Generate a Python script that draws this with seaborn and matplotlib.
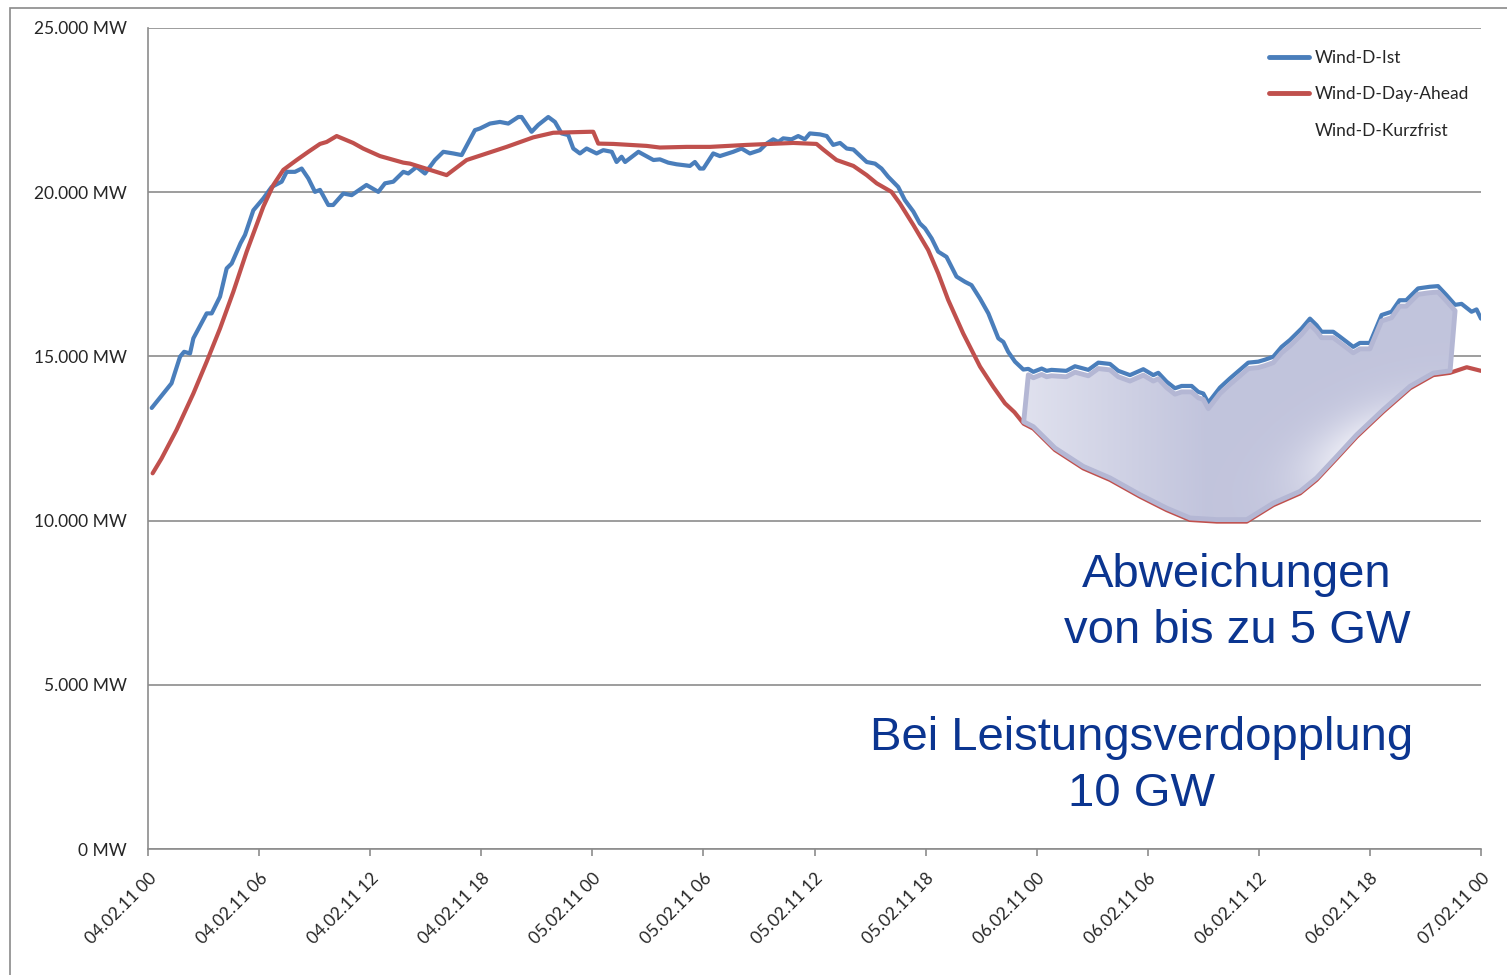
import numpy as np
import pandas as pd
import matplotlib.pyplot as plt
import seaborn as sns
from matplotlib.patches import Polygon, Rectangle
from matplotlib.lines import Line2D

# Stunden ab 04.02.11 00:00 und Einspeisung in MW
ist_h = [0.2, 1.27, 1.73, 1.95, 2.27, 2.45, 3.17, 3.44, 3.89, 4.25, 4.52, 5.0, 5.24, 5.69, 6.23,
         6.68, 7.22, 7.49, 7.94, 8.3, 8.66, 9.02, 9.29, 9.74, 10.0, 10.55, 11.0, 11.8, 12.44,
         12.8, 13.25, 13.79, 14.06, 14.51, 14.96, 15.5, 15.95, 16.49, 16.94, 17.66, 17.93,
         18.47, 19.01, 19.46, 20.0, 20.18, 20.72, 21.08, 21.62, 21.98, 22.34, 22.7, 22.97,
         23.33, 23.69, 24.23, 24.59, 25.05, 25.31, 25.58, 25.77, 26.49, 27.3, 27.65, 28.1,
         28.55, 29.27, 29.54, 29.81, 30.0, 30.53, 30.89, 31.61, 32.06, 32.51, 33.05, 33.41,
         33.77, 34.04, 34.31, 34.76, 35.12, 35.48, 35.75, 36.3, 36.66, 37.01, 37.38, 37.74,
         38.1, 38.82, 39.27, 39.62, 39.98, 40.52, 40.88, 41.34, 41.69, 41.97, 42.33, 42.68,
         43.13, 43.67, 44.13, 44.48, 44.94, 45.39, 45.93, 46.2, 46.46, 46.83, 47.28, 47.55,
         47.82, 48.27, 48.54, 48.8, 49.6, 50.07, 50.79, 51.33, 51.96, 52.41, 53.04, 53.76,
         54.3, 54.57, 55.02, 55.47, 55.83, 56.37, 56.73, 57.0, 57.27, 57.9, 58.44, 58.98,
         59.43, 59.97, 60.33, 60.78, 61.23, 61.68, 62.31, 62.76, 63.12, 63.39, 64.02, 64.38,
         65.1, 65.46, 66.0, 66.63, 67.17, 67.6, 67.96, 68.6, 69.23, 69.68, 70.13, 70.6,
         70.95, 71.49, 71.76, 72.0]
ist_mw = [13430, 14180, 14990, 15140, 15090, 15550, 16310, 16310, 16820, 17680, 17830, 18450,
          18700, 19450, 19810, 20160, 20320, 20620, 20620, 20720, 20420, 20010, 20070, 19610,
          19610, 19960, 19910, 20220, 20010, 20270, 20320, 20620, 20570, 20770, 20570, 20980,
          21230, 21180, 21130, 21890, 21940, 22090, 22140, 22090, 22290, 22290, 21840, 22050,
          22290, 22140, 21790, 21740, 21330, 21180, 21330, 21180, 21280, 21230, 20920, 21080,
          20920, 21230, 20980, 21000, 20900, 20850, 20800, 20920, 20720, 20720, 21180, 21100,
          21230, 21330, 21180, 21280, 21480, 21610, 21530, 21640, 21610, 21710, 21610, 21790,
          21760, 21710, 21440, 21500, 21330, 21300, 20920, 20870, 20720, 20470, 20160, 19760,
          19410, 19050, 18900, 18590, 18190, 18030, 17430, 17270, 17170, 16760, 16310, 15550,
          15440, 15140, 14840, 14600, 14620, 14530, 14630, 14560, 14590, 14560, 14700, 14590,
          14810, 14770, 14560, 14430, 14610, 14430, 14500, 14230, 14030, 14100, 14100, 13920,
          13870, 13590, 14050, 14330, 14590, 14810, 14840, 14900, 14990, 15290, 15500, 15850,
          16150, 15950, 15750, 15750, 15600, 15290, 15410, 15410, 16260, 16360, 16710, 16710,
          17070, 17120, 17140, 16870, 16570, 16600, 16360, 16430, 16150]

da_h = [0.25, 0.73, 1.54, 2.45, 3.17, 3.89, 4.61, 5.33, 6.23, 6.77, 7.31, 8.03, 8.66, 9.29,
        9.65, 10.19, 11.08, 11.62, 12.53, 13.79, 14.15, 15.23, 16.13, 17.21, 19.37, 20.81,
        21.89, 23.87, 24.05, 24.32, 25.13, 26.93, 27.65, 29.09, 30.36, 32.33, 34.85, 36.11,
        36.47, 37.19, 38.1, 38.82, 39.36, 40.16, 40.61, 41.34, 42.14, 42.68, 43.22, 44.03,
        44.94, 45.66, 46.29, 46.8, 47.3, 47.82, 48.99, 50.52, 51.96, 53.58, 55.02, 56.28,
        57.73, 59.35, 60.78, 62.23, 63.12, 64.2, 65.28, 66.71, 68.17, 69.42, 70.33, 71.23, 72.0]
da_mw = [11440, 11890, 12760, 13870, 14840, 15850, 16970, 18190, 19560, 20220, 20680, 20980,
         21230, 21470, 21530, 21710, 21500, 21330, 21100, 20900, 20870, 20680, 20520, 20980,
         21380, 21670, 21810, 21840, 21840, 21480, 21470, 21410, 21360, 21380, 21380, 21440,
         21500, 21470, 21300, 20980, 20800, 20520, 20270, 20010, 19660, 19000, 18240, 17530,
         16720, 15700, 14690, 14070, 13570, 13300, 12950, 12800, 12150, 11590, 11240, 10730,
         10320, 10020, 9970, 9970, 10470, 10830, 11240, 11890, 12550, 13310, 14030, 14430,
         14500, 14670, 14560]

x_ticks = list(range(0, 73, 6))
x_labels = ["04.02.11 00", "04.02.11 06", "04.02.11 12", "04.02.11 18",
            "05.02.11 00", "05.02.11 06", "05.02.11 12", "05.02.11 18",
            "06.02.11 00", "06.02.11 06", "06.02.11 12", "06.02.11 18", "07.02.11 00"]
y_ticks = [0, 5000, 10000, 15000, 20000, 25000]
y_labels = ["0 MW", "5.000 MW", "10.000 MW", "15.000 MW", "20.000 MW", "25.000 MW"]

# Bereich der markierten Abweichung
band_start, band_end = 47.3, 70.6

ist = pd.DataFrame({"h": ist_h, "mw": ist_mw})
da = pd.DataFrame({"h": da_h, "mw": da_mw})

sns.set_style("white")
plt.rcParams["font.family"] = ["Lato", "DejaVu Sans"]

W, H = 1507, 975
fig = plt.figure(figsize=(W / 100, H / 100), dpi=100)
ax = fig.add_axes([148 / W, (H - 849) / H, (1481 - 148) / W, (849 - 28) / H])

# Rahmen um das Diagramm (nur links und oben sichtbar)
fig.patches.append(Rectangle((10 / W, -0.2), 1.2, 0.2 + (H - 8) / H,
                             transform=fig.transFigure, fill=False,
                             edgecolor="#8a8a8a", linewidth=1.2))

blue = "#4a7ebb"
red = "#c0504d"
sns.lineplot(data=ist, x="h", y="mw", ax=ax, color=blue, linewidth=3, zorder=3,
             sort=False, estimator=None)
sns.lineplot(data=da, x="h", y="mw", ax=ax, color=red, linewidth=3, zorder=3,
             sort=False, estimator=None)

# Abweichungsfläche zwischen Ist und Day-Ahead
top = ist[(ist.h >= band_start) & (ist.h <= band_end)]
bot = da[(da.h >= band_start) & (da.h <= band_end)].iloc[::-1]
verts = np.vstack([np.column_stack([top.h, top.mw - 180]),
                   np.column_stack([bot.h, bot.mw + 60])])
poly = Polygon(verts, closed=True, facecolor="none", edgecolor="#b4b7d4",
               linewidth=3.5, zorder=5, joinstyle="round")
ax.add_patch(poly)

x0, x1 = verts[:, 0].min(), verts[:, 0].max()
y0, y1 = verts[:, 1].min(), verts[:, 1].max()
u, v = np.meshgrid(np.linspace(0, 1, 300), np.linspace(0, 1, 200))
light = np.clip(0.55 * (0.42 - u) / 0.42, 0, None)
# heller Streifen entlang der rechten unteren Kante
p0, p1 = np.array([0.6, 0.02]), np.array([0.98, 0.62])
d = p1 - p0
L = np.hypot(*d)
t = ((u - p0[0]) * d[0] + (v - p0[1]) * d[1]) / L ** 2
perp = ((u - p0[0]) * d[1] - (v - p0[1]) * d[0]) / L
light += 0.95 * np.exp(-(perp - 0.03) ** 2 / 0.016) * np.exp(-(t - 0.5) ** 2 / 0.1)
light = np.clip(light, 0, 1)
dark = np.array([0.76, 0.77, 0.865])
white = np.array([0.975, 0.975, 0.99])
img = dark[None, None, :] * (1 - light[..., None]) + white[None, None, :] * light[..., None]
im = ax.imshow(img, extent=[x0, x1, y0, y1], origin="lower", aspect="auto", zorder=4,
               interpolation="bilinear")
im.set_clip_path(Polygon(verts, closed=True, transform=ax.transData))

ax.set_xlim(0, 72)
ax.set_ylim(0, 25000)
ax.set_xticks(x_ticks)
ax.set_xticklabels(x_labels, rotation=45, ha="right", rotation_mode="anchor", fontsize=12.5)
ax.set_yticks(y_ticks)
ax.set_yticklabels(y_labels, fontsize=12.5)
ax.set_xlabel("")
ax.set_ylabel("")
ax.grid(axis="y", color="#8c8c8c", linewidth=1.2)
ax.grid(axis="x", visible=False)
for s in ["top", "right"]:
    ax.spines[s].set_visible(False)
for s in ["left", "bottom"]:
    ax.spines[s].set_color("#8c8c8c")
    ax.spines[s].set_linewidth(1.2)
ax.tick_params(axis="y", length=7, color="#8c8c8c", width=1.2, pad=8)
ax.tick_params(axis="x", length=5, color="#8c8c8c", width=1.2, pad=10, bottom=True)

handles = [Line2D([], [], color=blue, linewidth=3.5),
           Line2D([], [], color=red, linewidth=3.5),
           Line2D([], [], color="none", linewidth=3.5)]
ax.legend(handles, ["Wind-D-Ist", "Wind-D-Day-Ahead", "Wind-D-Kurzfrist"],
          loc="upper left", bbox_to_anchor=(1253 / W, (H - 34) / H),
          bbox_transform=fig.transFigure, frameon=False, fontsize=12.5,
          handlelength=2.35, handletextpad=0.3, labelspacing=1.2)

txt = "#0b3590"
fig.text(1237 / W, (H - 603) / H, "Abweichungen\nvon bis zu 5 GW", ha="center", va="center",
         color=txt, fontsize=34, family=["Liberation Sans", "DejaVu Sans"], linespacing=1.35)
fig.text(1142 / W, (H - 766) / H, "Bei Leistungsverdopplung\n10 GW", ha="center", va="center",
         color=txt, fontsize=34, family=["Liberation Sans", "DejaVu Sans"], linespacing=1.37)

fig.savefig("out.png", dpi=100)
